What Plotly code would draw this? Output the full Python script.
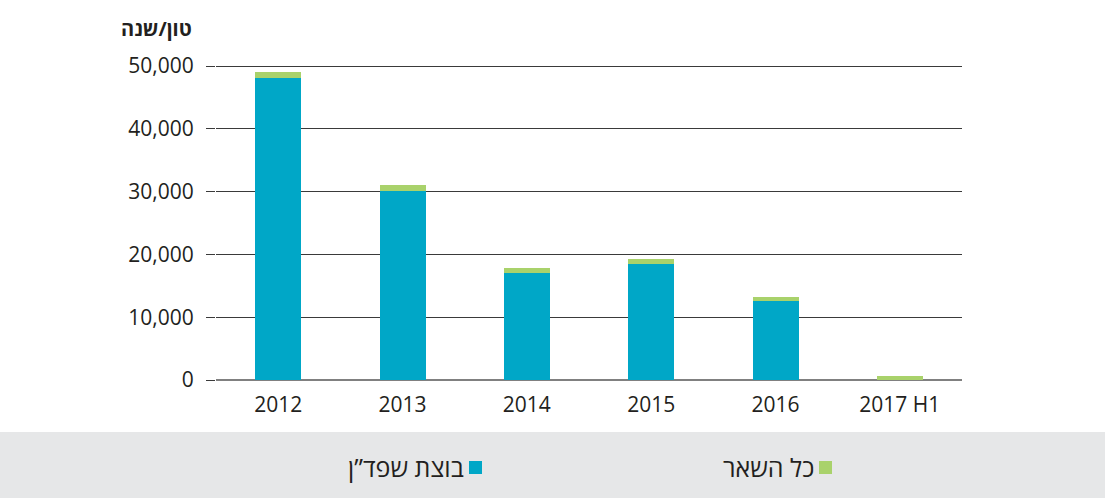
import plotly.graph_objects as go

categories = ["2012", "2013", "2014", "2015", "2016", "2017 H1"]
sludge = [48100, 30100, 17000, 18500, 12600, 50]
others = [900, 950, 800, 800, 600, 650]
tick_vals = [0, 10000, 20000, 30000, 40000, 50000]
tick_text = ["0", "10,000", "20,000", "30,000", "40,000", "50,000"]
y_title = "טון/שנה"
name_sludge = "בוצת שפד”ן"
name_others = "כל השאר"

BLUE = "#00a7c7"
GREEN = "#a9d26b"
FONT = "Open Sans, Noto Sans, DejaVu Sans, sans-serif"

fig = go.Figure()
fig.add_trace(go.Bar(x=categories, y=sludge, name=name_sludge, marker=dict(color=BLUE, line=dict(width=0)),
                     width=0.37, showlegend=False, hoverinfo="skip"))
fig.add_trace(go.Bar(x=categories, y=others, name=name_others, marker=dict(color=GREEN, line=dict(width=0)),
                     width=0.37, showlegend=False, hoverinfo="skip"))

W, H = 1105, 498
YTOP = 50480
L, R, B = 216, 143, 118
T = 66 - round(314 * (YTOP - 50000) / 50000)
pw, ph = W - L - R, H - T - B

def px_x(x):
    return (x - L) / pw

def px_y(y):
    return (H - B - y) / ph

fig.update_layout(
    barmode="stack",
    width=W, height=H,
    margin=dict(l=L, r=R, t=T, b=B, pad=0),
    paper_bgcolor="white", plot_bgcolor="white",
    font=dict(family=FONT, size=21, color="#231f20"),
    xaxis=dict(type="category", showgrid=False, showline=False, ticks="", zeroline=False,
               tickfont=dict(size=21), ticklabelstandoff=10),
    yaxis=dict(range=[0, YTOP], tickvals=tick_vals, ticktext=tick_text, showgrid=True,
               gridcolor="#3a3a3a", gridwidth=1, zeroline=True, zerolinecolor="#808080", zerolinewidth=1.5,
               ticks="outside", ticklen=9, tickcolor="#3a3a3a", tickwidth=1, showline=False,
               tickfont=dict(size=21), ticklabelstandoff=8),
    shapes=[
        dict(type="rect", xref="paper", yref="paper", x0=px_x(-2), x1=px_x(W + 2), y0=px_y(432), y1=px_y(H + 2),
             fillcolor="#e6e7e8", line=dict(width=0), layer="below"),
        dict(type="rect", xref="paper", yref="paper", x0=px_x(469), x1=px_x(482), y0=px_y(474), y1=px_y(461),
             fillcolor=BLUE, line=dict(width=0)),
        dict(type="rect", xref="paper", yref="paper", x0=px_x(819), x1=px_x(832), y0=px_y(474), y1=px_y(461),
             fillcolor=GREEN, line=dict(width=0)),
    ],
    annotations=[
        dict(text="<b>" + y_title + "</b>", xref="paper", yref="paper", x=px_x(194), y=px_y(28),
             xanchor="right", yanchor="middle", showarrow=False, font=dict(size=20)),
        dict(text=name_sludge, xref="paper", yref="paper", x=px_x(466), y=px_y(467),
             xanchor="right", yanchor="middle", showarrow=False, font=dict(size=25)),
        dict(text=name_others, xref="paper", yref="paper", x=px_x(816), y=px_y(467),
             xanchor="right", yanchor="middle", showarrow=False, font=dict(size=25)),
    ],
)

fig.write_html("out.html", config={"displayModeBar": False},
               post_script="document.body.style.margin='0';document.body.style.padding='0';")
